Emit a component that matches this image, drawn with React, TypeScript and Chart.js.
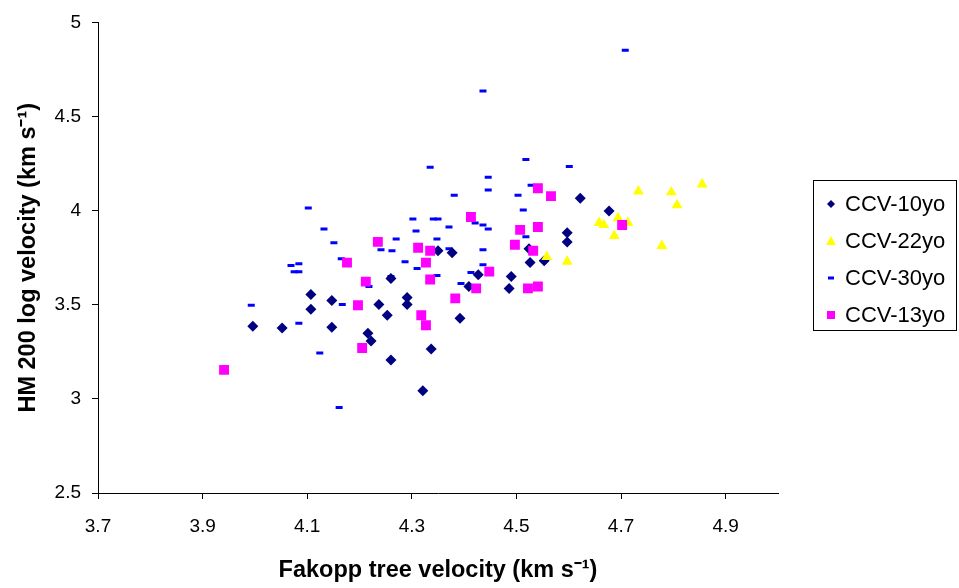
import React, { useEffect, useRef } from "react";
import { Chart, registerables } from "chart.js";

Chart.register(...registerables);

const seriesNames = ["CCV-10yo", "CCV-22yo", "CCV-30yo", "CCV-13yo"];
const xTickValues = [3.7, 3.9, 4.1, 4.3, 4.5, 4.7, 4.9];
const xTitle = "Fakopp tree velocity (km s\u207B\u00B9)";
const yTitle = "HM 200 log velocity (km s\u207B\u00B9)";

const ccv10X = [3.996, 4.052, 4.107, 4.107, 4.147, 4.147, 4.216, 4.222, 4.237, 4.253, 4.26, 4.26, 4.291, 4.291, 4.321, 4.337, 4.35, 4.377, 4.392, 4.409, 4.427, 4.49, 4.486, 4.524, 4.526, 4.553, 4.597, 4.597, 4.622, 4.677];
const ccv10Y = [3.386, 3.376, 3.555, 3.476, 3.523, 3.381, 3.349, 3.307, 3.502, 3.444, 3.639, 3.207, 3.539, 3.502, 3.043, 3.265, 3.787, 3.776, 3.428, 3.597, 3.66, 3.65, 3.587, 3.797, 3.724, 3.734, 3.882, 3.834, 4.066, 3.998];

const ccv22X = [4.558, 4.597, 4.658, 4.667, 4.694, 4.713, 4.687, 4.733, 4.796, 4.807, 4.855, 4.778];
const ccv22Y = [3.755, 3.729, 3.935, 3.924, 3.961, 3.935, 3.866, 4.103, 4.098, 4.03, 4.14, 3.813];

const ccv30X = [3.993, 4.069, 4.075, 4.084, 4.084, 4.084, 4.102, 4.124, 4.132, 4.151, 4.161, 4.165, 4.167, 4.218, 4.241, 4.26, 4.262, 4.27, 4.287, 4.302, 4.308, 4.31, 4.335, 4.341, 4.35, 4.348, 4.348, 4.371, 4.371, 4.381, 4.394, 4.413, 4.421, 4.436, 4.436, 4.436, 4.436, 4.446, 4.446, 4.446, 4.503, 4.513, 4.518, 4.518, 4.528, 4.601, 4.708];
const ccv30Y = [3.497, 3.708, 3.676, 3.718, 3.676, 3.402, 4.014, 3.244, 3.903, 3.829, 2.954, 3.745, 3.502, 3.597, 3.792, 3.65, 3.787, 3.85, 3.729, 3.956, 3.892, 3.692, 4.23, 3.956, 3.956, 3.85, 3.655, 3.913, 3.797, 4.082, 3.613, 3.671, 3.935, 3.924, 3.792, 3.713, 4.636, 4.177, 4.109, 3.903, 4.082, 4.003, 4.272, 3.861, 4.135, 4.235, 4.852];

const ccv13X = [3.941, 4.176, 4.197, 4.205, 4.212, 4.235, 4.312, 4.318, 4.327, 4.327, 4.335, 4.335, 4.383, 4.413, 4.423, 4.448, 4.497, 4.507, 4.522, 4.532, 4.541, 4.541, 4.541, 4.566, 4.702];
const ccv13Y = [3.154, 3.724, 3.497, 3.27, 3.623, 3.834, 3.803, 3.444, 3.724, 3.391, 3.787, 3.634, 3.534, 3.966, 3.587, 3.676, 3.819, 3.898, 3.587, 3.787, 4.119, 3.913, 3.597, 4.077, 3.924];

const NAVY = "#000080";
const YELLOW = "#FFFF00";
const BLUE = "#0000FF";
const MAGENTA = "#FF00FF";
const FONT = "'Liberation Sans', Arial, Helvetica, sans-serif";

const toPoints = (xs: number[], ys: number[]) => xs.map((x, i) => ({ x, y: ys[i] }));

function Marker({ kind }: { kind: string }) {
  if (kind === "diamond")
    return (
      <svg width="16" height="16" viewBox="0 0 16 16">
        <polygon points="8,4 12,8 8,12 4,8" fill={NAVY} />
      </svg>
    );
  if (kind === "triangle")
    return (
      <svg width="16" height="16" viewBox="0 0 16 16">
        <polygon points="8,3 13,12 3,12" fill={YELLOW} />
      </svg>
    );
  if (kind === "dash")
    return (
      <svg width="16" height="16" viewBox="0 0 16 16">
        <rect x="5" y="6.5" width="6" height="3" fill={BLUE} />
      </svg>
    );
  return (
    <svg width="16" height="16" viewBox="0 0 16 16">
      <rect x="4" y="4" width="8" height="8" fill={MAGENTA} />
    </svg>
  );
}

const markerKinds = ["diamond", "triangle", "dash", "square"];

export default function App() {
  const ref = useRef<HTMLCanvasElement>(null);

  useEffect(() => {
    if (!ref.current) return;
    const chart = new Chart(ref.current, {
      type: "scatter",
      data: {
        datasets: [
          {
            label: seriesNames[0],
            data: toPoints(ccv10X, ccv10Y),
            pointStyle: "rectRot",
            pointRadius: 5.5,
            backgroundColor: NAVY,
            borderColor: NAVY,
            borderWidth: 0,
            order: 2,
          },
          {
            label: seriesNames[1],
            data: toPoints(ccv22X, ccv22Y),
            pointStyle: "triangle",
            pointRadius: 6.3,
            backgroundColor: YELLOW,
            borderColor: YELLOW,
            borderWidth: 0,
            order: 1,
          },
          {
            label: seriesNames[2],
            data: toPoints(ccv30X, ccv30Y),
            pointStyle: "line",
            pointRadius: 3.5,
            backgroundColor: BLUE,
            borderColor: BLUE,
            borderWidth: 3,
            order: 3,
          },
          {
            label: seriesNames[3],
            data: toPoints(ccv13X, ccv13Y),
            pointStyle: "rect",
            pointRadius: 7,
            backgroundColor: MAGENTA,
            borderColor: MAGENTA,
            borderWidth: 0,
            order: 0,
          },
        ],
      },
      options: {
        responsive: false,
        animation: false,
        events: [],
        layout: { padding: { top: 19, right: 181, left: 0, bottom: 0 } },
        plugins: {
          legend: { display: false },
          tooltip: { enabled: false },
        },
        scales: {
          x: {
            type: "linear",
            min: 3.7,
            max: 5.0,
            afterBuildTicks: (scale: any) => {
              scale.ticks = xTickValues.map((v) => ({ value: v }));
            },
            afterFit: (scale: any) => {
              scale.height = 95;
            },
            ticks: {
              color: "#000",
              font: { family: FONT, size: 19 },
              padding: 16,
              maxRotation: 0,
              callback: (v: any) => Number(v).toFixed(1),
            },
            grid: {
              display: true,
              drawOnChartArea: false,
              drawTicks: true,
              tickLength: 6,
              color: "#000",
              lineWidth: 1,
            },
            border: { display: true, color: "#000", width: 1 },
            title: {
              display: true,
              text: xTitle,
              color: "#000",
              font: { family: FONT, size: 23.5, weight: "bold" },
              padding: { top: 0, bottom: 3 },
            },
          },
          y: {
            type: "linear",
            min: 2.5,
            max: 5,
            afterFit: (scale: any) => {
              scale.width = 98;
            },
            ticks: {
              stepSize: 0.5,
              color: "#000",
              font: { family: FONT, size: 19 },
              padding: 11,
              callback: (v: any) => String(Number(v)),
            },
            grid: {
              display: true,
              drawOnChartArea: false,
              drawTicks: true,
              tickLength: 6,
              color: "#000",
              lineWidth: 1,
            },
            border: { display: true, color: "#000", width: 1 },
            title: {
              display: true,
              text: yTitle,
              color: "#000",
              font: { family: FONT, size: 23.5, weight: "bold" },
              padding: { top: 14, bottom: 0 },
            },
          },
        },
      },
    } as any);
    return () => chart.destroy();
  }, []);

  return (
    <div style={{ position: "absolute", left: 0, top: 0, width: 959, height: 588, background: "#fff" }}>
      <canvas ref={ref} width={959} height={588} style={{ display: "block" }} />
      <div
        style={{
          position: "absolute",
          left: 813,
          top: 180,
          width: 144,
          height: 151,
          boxSizing: "border-box",
          border: "1px solid #000",
          fontFamily: FONT,
          fontSize: 22,
          color: "#000",
        }}
      >
        {seriesNames.map((name, i) => (
          <div
            key={name}
            style={{
              position: "absolute",
              left: 9,
              top: 23 + i * 37 - 12,
              height: 24,
              display: "flex",
              alignItems: "center",
              whiteSpace: "nowrap",
            }}
          >
            <Marker kind={markerKinds[i]} />
            <span style={{ marginLeft: 6, lineHeight: "24px" }}>{name}</span>
          </div>
        ))}
      </div>
    </div>
  );
}
